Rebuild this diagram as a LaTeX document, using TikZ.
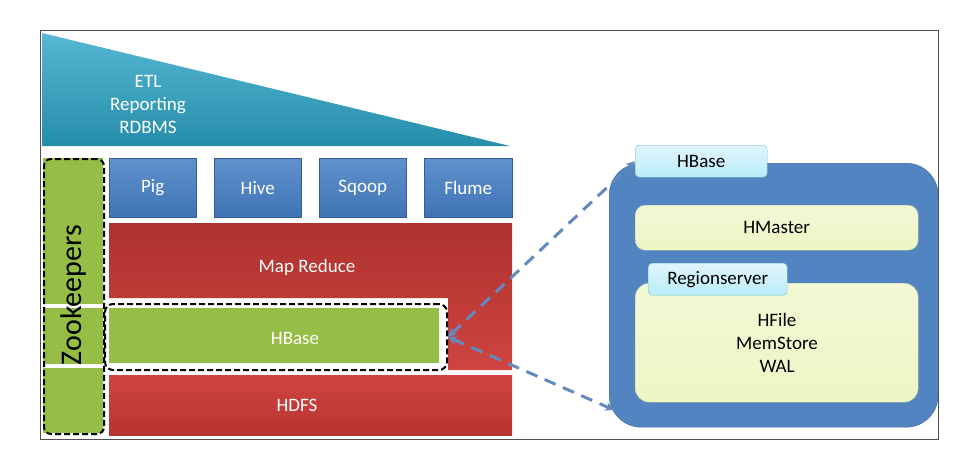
\documentclass[tikz,border=0pt]{standalone}
\usepackage{fontspec}
\setmainfont{Carlito}
\usetikzlibrary{arrows.meta}

\definecolor{etlteal}{RGB}{44,166,200}
\definecolor{toolblue}{RGB}{68,126,196}
\definecolor{layerred}{RGB}{204,58,54}
\definecolor{hbgreen}{RGB}{150,190,70}
\definecolor{clusterblue}{RGB}{82,132,194}
\definecolor{tabblue}{RGB}{205,236,248}
\definecolor{paleg}{RGB}{236,246,196}
\definecolor{linkblue}{RGB}{98,138,190}
\definecolor{framegray}{RGB}{80,80,80}

\begin{document}
\begin{tikzpicture}[x=1pt, y=-1pt,
  font=\fontsize{19}{23}\selectfont,
  box/.style={inner sep=0pt, anchor=north west},
  toolbox/.style={box, draw=toolblue!75!black, top color=toolblue!85!white,
    bottom color=toolblue!92!black, text=white, minimum width=87, minimum height=59},
  tabbox/.style={box, draw=tabblue!70!cyan!80!black, top color=tabblue!60!white,
    bottom color=tabblue!90!cyan, rounded corners=4, minimum height=32},
  palebox/.style={box, draw=paleg!80!black, top color=paleg!70!white,
    bottom color=paleg, rounded corners=10, minimum width=283},
  dashframe/.style={box, draw, line width=2pt, dash pattern=on 6pt off 3pt},
  lbl/.style={text=white},
  link/.style={draw=linkblue, line width=3pt, dash pattern=on 12pt off 8pt,
    {Stealth[length=9pt,width=9pt]}-{Stealth[length=9pt,width=9pt]}}]
\useasboundingbox (0,0) rectangle (973,468);

% left stack
\shade[top color=etlteal!80!white, bottom color=etlteal!85!black]
  (42,33) -- (42,146) -- (510,146) -- cycle;
\node[lbl, align=center] (etl) at (148,104) {ETL\\Reporting\\RDBMS};

\node[toolbox] (pig) at (109,158) {Pig};
\node[toolbox] (hive) at (214,158) {Hive};
\node[toolbox] (sqoop) at (319,158) {Sqoop};
\node[toolbox, minimum width=88] (flume) at (424,158) {Flume};

\shade[top color=layerred!85!black, bottom color=layerred!95!white]
  (109,223) -- (512,223) -- (512,370) -- (448,370) -- (448,298) -- (109,298) -- cycle;
\node[lbl] (mapred) at (307,267) {Map Reduce};

\node[box, fill=hbgreen, minimum width=330, minimum height=55] (hbase) at (109,308) {};
\node[lbl] (hbtxt) at (295,338) {HBase};
\node[dashframe, rounded corners=8, minimum width=342, minimum height=66] (hbwrap) at (104,303) {};

\node[box, top color=layerred!95!white, bottom color=layerred!90!black,
  minimum width=403, minimum height=60] (hdfs) at (109,375) {};
\node[lbl] (hdfstxt) at (297,405) {HDFS};

% zookeepers column
\fill[hbgreen] (43,158) rectangle (103,304);
\fill[hbgreen] (43,308) rectangle (103,364);
\fill[hbgreen] (43,368) rectangle (103,433);
\node[dashframe, rounded corners=7, minimum width=60, minimum height=275] (zkframe) at (43,158) {};
\node[rotate=90, font=\fontsize{30}{36}\selectfont] (zk) at (74,295) {Zookeepers};

% hbase detail
\node[box, fill=clusterblue, draw=clusterblue!80!black, rounded corners=32,
  minimum width=329, minimum height=264] (cluster) at (609,163) {};
\node[tabbox, minimum width=132] (hbtab) at (635,145) {HBase};
\node[palebox, minimum height=45] (hmaster) at (635,205) {HMaster};
\node[palebox, minimum height=119, rounded corners=14] (region) at (635,283) {};
\node[align=center] (stores) at (777,343) {HFile\\MemStore\\WAL};
\node[tabbox, minimum width=139] (rstab) at (648,263) {Regionserver};

\coordinate (clin) at (614,410);
\draw[link] (hbwrap.east) -- (hbtab.west);
\draw[link] (hbwrap.east) -- (clin);

\draw[framegray, line width=1pt] (40,31) rectangle (938,439);
\end{tikzpicture}
\end{document}
